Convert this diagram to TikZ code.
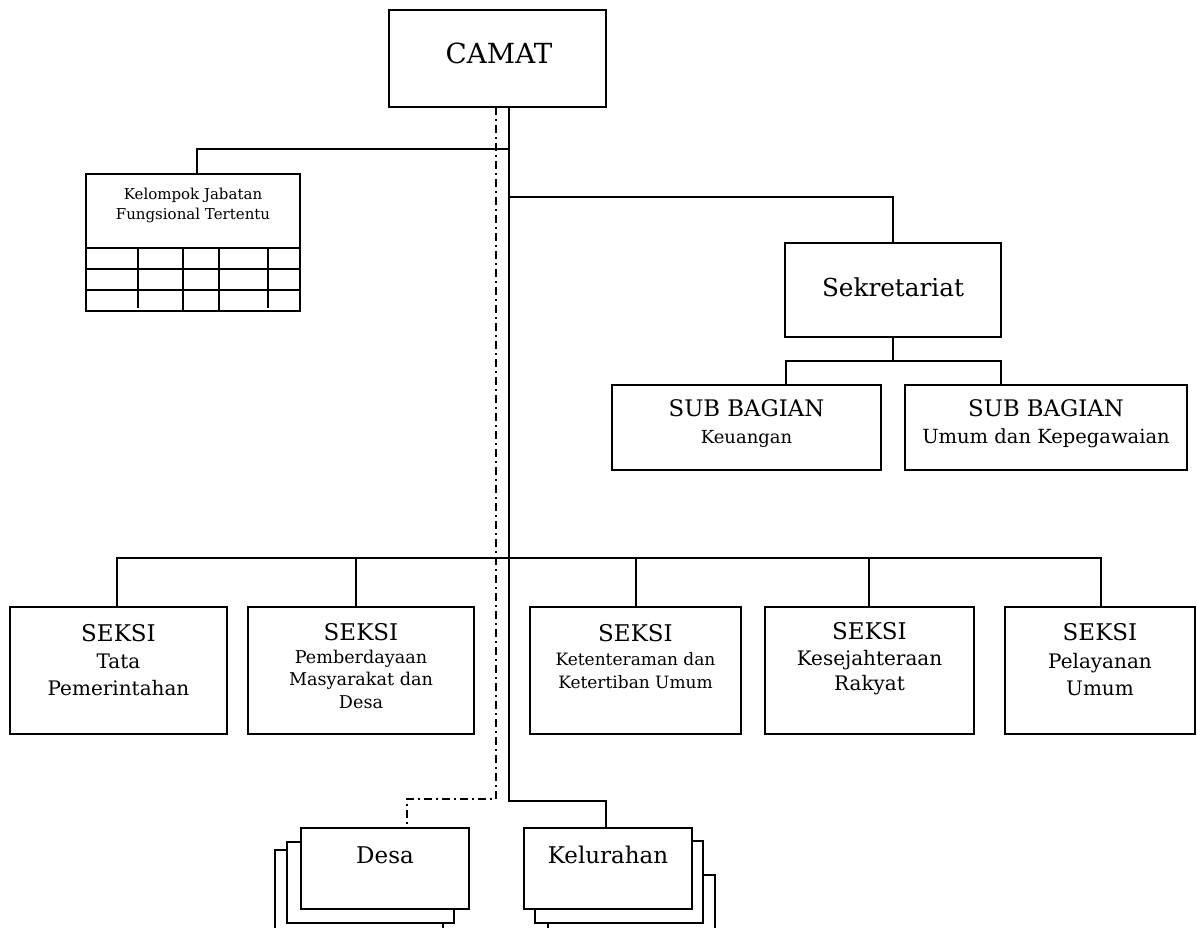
\documentclass[tikz,border=0pt]{standalone}
\usepackage{fontspec}
\setmainfont{DejaVu Serif}
\begin{document}
\begin{tikzpicture}[x=1pt,y=-1pt,
  box/.style={draw, line width=1.9pt, fill=white, inner sep=0pt, outer sep=0pt, anchor=north west, rectangle},
  conn/.style={line width=1.9pt},
  dd/.style={line width=1.9pt, dash pattern=on 8pt off 4pt on 2pt off 4pt},
  lbl/.style={inner sep=0pt, align=center},
  ]
\clip (0,0) rectangle (1197,928);
\fill[white] (0,0) rectangle (1197,928);

% boxes
\node[box, minimum width=217pt, minimum height=97pt] (camat) at (389,10) {};
\node[box, minimum width=214pt, minimum height=137pt] (kjf) at (86,174) {};
\node[box, minimum width=216pt, minimum height=94pt] (sek) at (785,243) {};
\node[box, minimum width=269pt, minimum height=85pt] (subk) at (612,385) {};
\node[box, minimum width=282pt, minimum height=85pt] (subu) at (905,385) {};
\node[box, minimum width=217pt, minimum height=127pt] (s1) at (10,607) {};
\node[box, minimum width=226pt, minimum height=127pt] (s2) at (248,607) {};
\node[box, minimum width=211pt, minimum height=127pt] (s3) at (530,607) {};
\node[box, minimum width=209pt, minimum height=127pt] (s4) at (765,607) {};
\node[box, minimum width=190pt, minimum height=127pt] (s5) at (1005,607) {};
% Desa stack
\node[box, minimum width=168pt, minimum height=100pt] (desa3) at (275,850) {};
\node[box, minimum width=167pt, minimum height=81pt] (desa2) at (287,842) {};
\node[box, minimum width=168pt, minimum height=81pt] (desa) at (301,828) {};
% Kelurahan stack
\node[box, minimum width=167pt, minimum height=80pt] (kel3) at (548,875) {};
\node[box, minimum width=168pt, minimum height=82pt] (kel2) at (535,841) {};
\node[box, minimum width=168pt, minimum height=81pt] (kel) at (524,828) {};

% grid of Kelompok Jabatan
\draw[conn] (86,248) -- (300,248);
\draw[conn] (86,269) -- (300,269);
\draw[conn] (86,290) -- (300,290);
\draw[conn] (138,248) -- (138,308);
\draw[conn] (183,248) -- (183,311);
\draw[conn] (219,248) -- (219,311);
\draw[conn] (268,248) -- (268,308);

% labels
\node[lbl, font=\fontsize{27.7}{32}\selectfont] (tcamat) at (499,53) {CAMAT};
\node[lbl, font=\fontsize{15}{20}\selectfont] (tkjf) at (193,205) {Kelompok Jabatan\\Fungsional Tertentu};
\node[lbl, font=\fontsize{24.7}{30}\selectfont] (tsek) at (893,287) {Sekretariat};
\node[lbl, font=\fontsize{18}{27}\selectfont] (tsubk) at (746.5,423.5) {{\fontsize{22.8}{27}\selectfont SUB BAGIAN}\\Keuangan};
\node[lbl, font=\fontsize{19.5}{27}\selectfont] (tsubu) at (1046,423.5) {{\fontsize{22.8}{27}\selectfont SUB BAGIAN}\\Umum dan Kepegawaian};
\node[lbl, font=\fontsize{20}{27}\selectfont] (ts1) at (118.5,660) {{\fontsize{23}{27}\selectfont SEKSI}\\Tata\\Pemerintahan};
\node[lbl, font=\fontsize{17.6}{22.7}\selectfont] (ts2) at (361,666) {{\fontsize{23}{22.7}\selectfont SEKSI}\\Pemberdayaan\\Masyarakat dan\\Desa};
\node[lbl, font=\fontsize{17}{23.5}\selectfont] (ts3) at (635.5,657) {{\fontsize{23}{23.5}\selectfont SEKSI}\\Ketenteraman dan\\Ketertiban Umum};
\node[lbl, font=\fontsize{20}{25.5}\selectfont] (ts4) at (869.5,659) {{\fontsize{23}{25.5}\selectfont SEKSI}\\Kesejahteraan\\Rakyat};
\node[lbl, font=\fontsize{20}{27.5}\selectfont] (ts5) at (1100,660) {{\fontsize{23}{27.5}\selectfont SEKSI}\\Pelayanan\\Umum};
\node[lbl, font=\fontsize{23}{28}\selectfont] (tdesa) at (385,855) {Desa};
\node[lbl, font=\fontsize{23}{28}\selectfont] (tkel) at (608,855) {Kelurahan};

% connectors
\draw[conn] (camat.south -| 509,0) -- (509,801) -| (kel.north -| 606,0);
\draw[dd] (camat.south -| 496,0) -- (496,799) -| (desa.north -| 407,0);
\draw[conn] (509,149) -| (kjf.north -| 197,0);
\draw[conn] (509,197) -| (sek.north);
\draw[conn] (sek.south) -- (893,361);
\draw[conn] (subk.north -| 786,0) |- (893,361) -| (subu.north -| 1001,0);
\draw[conn] (s1.north -| 117,0) |- (509,558) -| (s5.north -| 1101,0);
\draw[conn] (356,558) -- (s2.north -| 356,0);
\draw[conn] (636,558) -- (s3.north -| 636,0);
\draw[conn] (869,558) -- (s4.north -| 869,0);
\end{tikzpicture}
\end{document}
